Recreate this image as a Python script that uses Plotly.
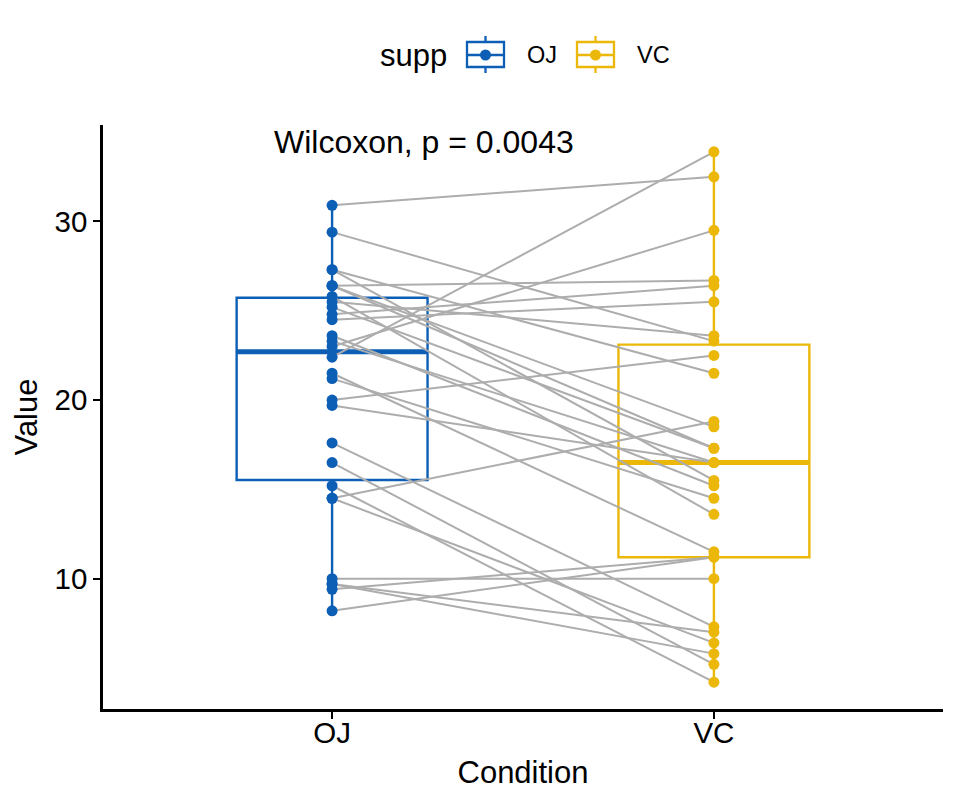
import numpy as np
import plotly.graph_objects as go

categories = ["OJ", "VC"]
oj = [15.2, 21.5, 17.6, 9.7, 14.5, 10.0, 8.2, 9.4, 16.5, 9.7,
      19.7, 23.3, 23.6, 26.4, 20.0, 25.2, 25.8, 21.2, 14.5, 27.3,
      25.5, 26.4, 22.4, 24.5, 24.8, 30.9, 26.4, 27.3, 29.4, 23.0]
vc = [4.2, 11.5, 7.3, 5.8, 6.4, 10.0, 11.2, 11.2, 5.2, 7.0,
      16.5, 16.5, 15.2, 17.3, 22.5, 17.3, 13.6, 14.5, 18.8, 15.5,
      23.6, 18.5, 33.9, 25.5, 26.4, 32.5, 26.7, 21.5, 23.3, 29.5]
colors = {"OJ": "#0D5FB6", "VC": "#EBB80A"}
line_gray = "#ADADAD"
label = "Wilcoxon, p = 0.0043"
legend_title = "supp"

series = {"OJ": oj, "VC": vc}
fig = go.Figure()

# boxes
for i, c in enumerate(categories):
    v = np.array(series[c])
    q1, med, q3 = np.percentile(v, [25, 50, 75])
    iqr = q3 - q1
    lo = v[v >= q1 - 1.5 * iqr].min()
    hi = v[v <= q3 + 1.5 * iqr].max()
    fig.add_trace(go.Box(
        x=[i + 1], q1=[q1], median=[med], q3=[q3], lowerfence=[lo], upperfence=[hi],
        width=0.5, name=c, line=dict(color=colors[c], width=2.4),
        fillcolor="rgba(255,255,255,0)", whiskerwidth=0, boxpoints=False,
        showlegend=False, hoverinfo="skip"))
    fig.add_trace(go.Scatter(
        x=[i + 1 - 0.25, i + 1 + 0.25], y=[med, med], mode="lines",
        line=dict(color=colors[c], width=5), showlegend=False, hoverinfo="skip"))

# paired lines
lx, ly = [], []
for a, b in zip(oj, vc):
    lx += [1, 2, None]
    ly += [a, b, None]
fig.add_trace(go.Scatter(x=lx, y=ly, mode="lines",
                         line=dict(color=line_gray, width=2),
                         showlegend=False, hoverinfo="skip"))

# points
for i, c in enumerate(categories):
    fig.add_trace(go.Scatter(
        x=[i + 1] * len(series[c]), y=series[c], mode="markers",
        marker=dict(color=colors[c], size=11), showlegend=False))

fig.add_annotation(x=0.843, y=34.45, xref="x", yref="y", text=label,
                   showarrow=False, xanchor="left", yanchor="middle",
                   font=dict(size=32, color="black"))

# custom legend (ggplot-style box keys)
W, H = 960, 806
L, R, T, B = 103, 17, 125, 97
pw, ph = W - L - R, H - T - B


def px(x):
    return (x - L) / pw


def py(y):
    return (H - B - y) / ph


fig.add_annotation(x=px(378), y=py(55), xref="paper", yref="paper", text=legend_title,
                   showarrow=False, xanchor="left", yanchor="middle",
                   font=dict(size=31, color="black"))
key_x = {"OJ": 467, "VC": 577}
for c in categories:
    x0 = key_x[c]
    x1 = x0 + 37
    xm = (x0 + x1) / 2
    col = colors[c]
    fig.add_shape(type="rect", x0=px(x0), x1=px(x1), y0=py(42), y1=py(67),
                  xref="paper", yref="paper", line=dict(color=col, width=2.3))
    fig.add_shape(type="line", x0=px(xm), x1=px(xm), y0=py(36), y1=py(42),
                  xref="paper", yref="paper", line=dict(color=col, width=2.3))
    fig.add_shape(type="line", x0=px(xm), x1=px(xm), y0=py(67), y1=py(73),
                  xref="paper", yref="paper", line=dict(color=col, width=2.3))
    fig.add_shape(type="line", x0=px(x0), x1=px(x1), y0=py(55), y1=py(55),
                  xref="paper", yref="paper", line=dict(color=col, width=2.3))
    fig.add_shape(type="circle", x0=px(xm - 5.5), x1=px(xm + 5.5), y0=py(60.5), y1=py(49.5),
                  xref="paper", yref="paper", line=dict(color=col, width=0), fillcolor=col)
    fig.add_annotation(x=px(x1 + 21), y=py(55), xref="paper", yref="paper", text=c,
                       showarrow=False, xanchor="left", yanchor="middle",
                       font=dict(size=23.5, color="black"))

font = "Liberation Sans, Arial, sans-serif"
fig.update_layout(
    width=W, height=H, plot_bgcolor="white", paper_bgcolor="white",
    margin=dict(l=L, r=R, t=T, b=B),
    font=dict(family=font, color="black"),
    showlegend=False,
    xaxis=dict(range=[0.4, 2.6], tickvals=[1, 2], ticktext=categories,
               showline=True, linecolor="black", linewidth=2.6,
               ticks="outside", ticklen=7, tickwidth=2.2, tickcolor="black",
               ticklabelstandoff=-11,
               showgrid=False, zeroline=False,
               tickfont=dict(size=29.5, color="black"),
               title=dict(text="Condition", font=dict(size=31), standoff=14)),
    yaxis=dict(range=[2.7, 35.4], tickvals=[10, 20, 30],
               showline=True, linecolor="black", linewidth=2.6,
               ticks="outside", ticklen=7, tickwidth=2.2, tickcolor="black",
               showgrid=False, zeroline=False,
               tickfont=dict(size=29.5, color="black"),
               title=dict(text="Value", font=dict(size=31), standoff=8)),
)
fig.write_html("out.html")
